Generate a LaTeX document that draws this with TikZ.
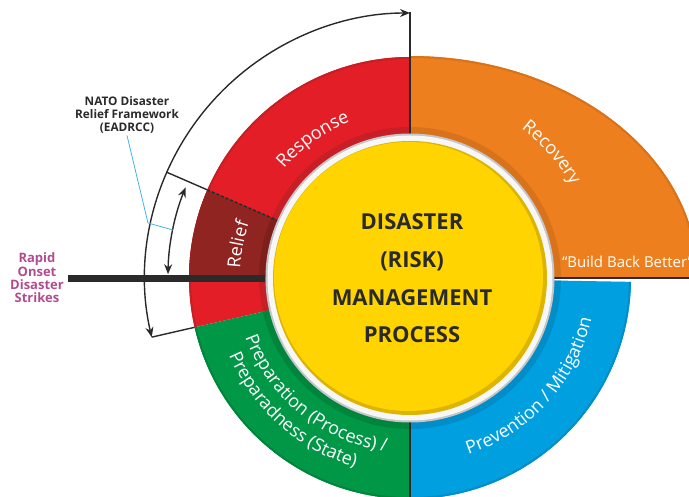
\documentclass[tikz,border=0pt]{standalone}
\usepackage{fontspec}
\setmainfont{Open Sans}
\usetikzlibrary{arrows.meta,decorations.text}
\definecolor{cred}{HTML}{E31E26}
\definecolor{credd}{HTML}{C81E25}
\definecolor{crelief}{HTML}{8F2420}
\definecolor{creliefd}{HTML}{7E1F1C}
\definecolor{corange}{HTML}{EE7F1E}
\definecolor{corangedk}{HTML}{D9731B}
\definecolor{cgreen}{HTML}{009846}
\definecolor{cgreendk}{HTML}{00853D}
\definecolor{cblue}{HTML}{00A0E0}
\definecolor{cbluedk}{HTML}{008DC8}
\definecolor{cyellow}{HTML}{FFD400}
\definecolor{cgold}{HTML}{DDB400}
\definecolor{cmag}{HTML}{B24C8F}
\definecolor{cdark}{HTML}{2A2A2A}
\definecolor{ccyan}{HTML}{3FB4E6}
\tikzset{
  connector/.style={draw=cdark, line width=1.4pt},
  arrowboth/.style={connector, {Stealth[length=10pt,width=8pt]}-{Stealth[length=10pt,width=8pt]}},
  ringtext/.style={decorate, decoration={text along path, text align=center, text color=white}},
  sidelabel/.style={align=center, inner sep=0pt, font=\bfseries\fontsize{11.8}{12.8}\selectfont},
}
\begin{document}
\begin{tikzpicture}[x=1pt,y=1pt]
\useasboundingbox (-410,-219) rectangle (279,278);
\clip (-410,-219) rectangle (279,278);
% ---- ring segments
% orange (recovery)
\fill[corange] (0:288) arc[start angle=0,end angle=90,x radius=288,y radius=222] -- (90:143) arc[start angle=90,end angle=0,radius=143] -- cycle;
\draw[corangedk, line width=2pt] (0:287) arc[start angle=0,end angle=90,x radius=287,y radius=221];
\fill[corangedk] (0:143) arc[start angle=0,end angle=90,radius=143] -- (90:151) arc[start angle=90,end angle=0,radius=151] -- cycle;
% red (response)
\fill[cred] (90:221) arc[start angle=90,end angle=192.9,radius=221] -- (192.9:143) arc[start angle=192.9,end angle=90,radius=143] -- cycle;
\draw[credd, line width=2pt] (90:220) arc[start angle=90,end angle=192.9,radius=220];
\fill[credd] (90:143) arc[start angle=90,end angle=192.9,radius=143] -- (192.9:151) arc[start angle=192.9,end angle=90,radius=151] -- cycle;
% relief
\fill[crelief] (156.5:221) arc[start angle=156.5,end angle=180,radius=221] -- (180:143) arc[start angle=180,end angle=156.5,radius=143] -- cycle;
\fill[creliefd] (156.5:143) arc[start angle=156.5,end angle=180,radius=143] -- (180:151) arc[start angle=180,end angle=156.5,radius=151] -- cycle;
% green
\fill[cgreen] (192.9:221) arc[start angle=192.9,end angle=270,radius=221] -- (270:143) arc[start angle=270,end angle=192.9,radius=143] -- cycle;
\draw[cgreendk, line width=2pt] (192.9:220) arc[start angle=192.9,end angle=270,radius=220];
\fill[cgreendk] (192.9:143) arc[start angle=192.9,end angle=270,radius=143] -- (270:151) arc[start angle=270,end angle=192.9,radius=151] -- cycle;
% blue
\fill[cblue] (270:221) arc[start angle=270,end angle=359,radius=221] -- (359:143) arc[start angle=359,end angle=270,radius=143] -- cycle;
\draw[cbluedk, line width=2pt] (270:220) arc[start angle=270,end angle=359,radius=220];
\fill[cbluedk] (270:143) arc[start angle=270,end angle=359,radius=143] -- (359:151) arc[start angle=359,end angle=270,radius=151] -- cycle;
% dividers
\coordinate (gbIn) at (270:143);
\coordinate (gbOut) at (270:221);
\draw[cdark, line width=1.5pt] (gbIn) -- (gbOut);
\coordinate (obIn) at (143,0);
\coordinate (obOut) at (290,0);
\draw[cdark, line width=2pt] (obIn) -- (obOut);
% ---- connectors and arrows
\coordinate (topTip) at (90:266);
\coordinate (topIn) at (90:143);
\coordinate (botTip) at (192.9:265);
\coordinate (botRing) at (192.9:221);
\coordinate (tickOut) at (156.5:265);
\coordinate (tickRing) at (156.5:221);
\coordinate (tickIn) at (156.5:145);
\coordinate (inLow) at (179.1:242);
\draw[connector, line width=1.6pt] (topTip) -- (topIn);
\draw[arrowboth] (botTip) arc[start angle=192.9,end angle=90,radius=265];
\draw[connector] (botTip) -- (botRing);
\draw[connector] (tickOut) -- (tickRing);
\draw[connector, dash pattern=on 3pt off 2pt] (tickRing) -- (tickIn);
\draw[arrowboth] (inLow) arc[start angle=179.1,end angle=158,radius=242];
% ---- labels left
\node[sidelabel, text=cdark] (nato) at (-283,163) {NATO Disaster\\Relief Framework\\(EADRCC)};
\node[sidelabel, text=cmag, font=\bfseries\fontsize{13}{13.3}\selectfont] (rapid) at (-373,0) {Rapid\\Onset\\Disaster\\Strikes};
\coordinate (cy1) at (-262,55);
\coordinate (cy2) at (-237,48);
\draw[ccyan, line width=0.8pt] ([yshift=-2pt]nato.south) -- (cy1) -- (cy2);
\coordinate (barStart) at (-342,-0.5);
\coordinate (barEnd) at (-145,-0.5);
\draw[cdark, line width=7pt] (barStart) -- (barEnd);
% ---- central circle
\fill[gray!45] (0,0) circle[radius=144.5];
\fill[white!94!gray] (0,0) circle[radius=142.5];
\fill[cgold] (0,0) circle[radius=137];
\fill[cyellow] (-1.5,1.5) circle[radius=134.5];
\node[align=center, text=cdark, font=\bfseries\fontsize{22}{37.6}\selectfont] (centre) at (2,-0.5) {DISASTER\\(RISK)\\MANAGEMENT\\PROCESS};
% ---- ring labels
\path[ringtext, decoration={text={|\fontsize{18}{18}\selectfont|Response}}] (160:167) arc[start angle=160,end angle=90,radius=167];
\path[ringtext, decoration={text={|\fontsize{18}{18}\selectfont|Recovery}}] (80:186) arc[start angle=80,end angle=3,radius=186];
\path[ringtext, decoration={text={|\fontsize{18}{18}\selectfont|Relief}}] (190:170) arc[start angle=190,end angle=148,radius=170];
\path[ringtext, decoration={text={|\fontsize{18}{18}\selectfont|Preparation (Process) /}}] (180:175) arc[start angle=180,end angle=282,radius=175];
\path[ringtext, decoration={text={|\fontsize{18}{18}\selectfont|Preparadness (State)}}] (177:197) arc[start angle=177,end angle=280,radius=197];
\path[ringtext, decoration={text={|\fontsize{18}{18}\selectfont|Prevention / Mitigation}}] (265:186) arc[start angle=265,end angle=370.6,radius=186];
\node[anchor=base west, inner sep=0pt, text=white, font=\fontsize{15}{17}\selectfont] (bbb) at (152,10) {“Build Back Better”};
\end{tikzpicture}
\end{document}
